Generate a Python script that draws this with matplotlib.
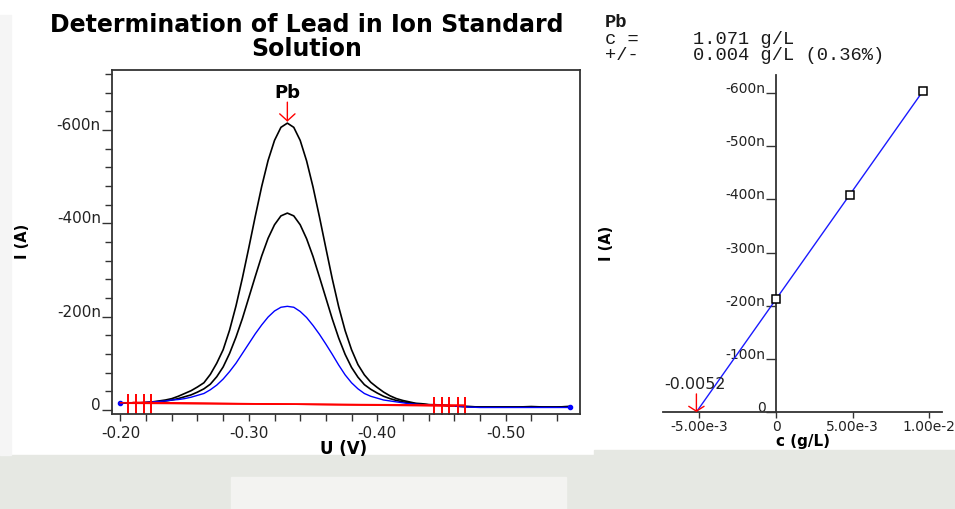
import numpy as np
import matplotlib.pyplot as plt
from matplotlib.ticker import FixedLocator, MultipleLocator, FuncFormatter
from matplotlib.patches import Rectangle

W, H = 955, 509

# voltammograms (U in V, I in nA)
potential = [
    -0.200, -0.205, -0.210, -0.215, -0.220, -0.225, -0.230, -0.235, -0.240, -0.245,
    -0.250, -0.255, -0.260, -0.265, -0.270, -0.275, -0.280, -0.285, -0.290, -0.295,
    -0.300, -0.305, -0.310, -0.315, -0.320, -0.325, -0.330, -0.335, -0.340, -0.345,
    -0.350, -0.355, -0.360, -0.365, -0.370, -0.375, -0.380, -0.385, -0.390, -0.395,
    -0.400, -0.405, -0.410, -0.415, -0.420, -0.425, -0.430, -0.435, -0.440, -0.445,
    -0.450, -0.460, -0.470, -0.480, -0.490, -0.500, -0.510, -0.520, -0.530, -0.540, -0.550,
]
i_add2 = [
    -15, -15, -15, -15, -16, -17, -19, -21, -24, -29,
    -35, -41, -49, -58, -76, -100, -129, -171, -223, -283,
    -348, -415, -479, -535, -578, -606, -615, -606, -578, -534,
    -478, -414, -347, -281, -221, -170, -129, -97, -75, -59,
    -48, -38, -30, -24, -20, -17, -14, -13, -11, -11,
    -10, -8, -7, -6, -6, -6, -6, -7, -6, -6, -7,
]
i_add1 = [
    -15, -15, -15, -15, -15, -16, -17, -19, -21, -24,
    -28, -32, -38, -45, -55, -71, -92, -121, -156, -196,
    -241, -286, -330, -368, -397, -416, -422, -416, -397, -367,
    -329, -285, -240, -195, -154, -119, -91, -70, -54, -44,
    -36, -29, -24, -20, -17, -15, -13, -12, -11, -10,
    -10, -8, -7, -6, -6, -6, -6, -6, -6, -6, -7,
]
i_sample = [
    -15, -15, -15, -15, -16, -17, -18, -19, -21, -22,
    -24, -27, -31, -35, -43, -53, -66, -82, -100, -121,
    -142, -163, -182, -199, -212, -220, -222, -220, -211, -198,
    -181, -162, -141, -119, -96, -75, -58, -45, -35, -29,
    -25, -21, -19, -17, -15, -13, -12, -11, -11, -10,
    -10, -8, -6, -5, -5, -5, -5, -5, -5, -5, -5,
]

# baselines and their limit marks
base_u = [[-0.200, -0.4685], [-0.205, -0.4685], [-0.210, -0.460]]
base_i = [[-15, -9], [-14, -10], [-16, -8]]
marks_left_u = [-0.206, -0.212, -0.218, -0.2235]
marks_left_i = [-13.5, -13.5, -13.5, -13.5]
marks_right_u = [-0.4446, -0.4503, -0.456, -0.4628, -0.4685]
marks_right_i = [-7, -7, -7, -7, -7]
peak_u = -0.330
peak_i = -618

# standard addition calibration
cal_c = [0.0, 4.8e-3, 9.6e-3]
cal_i = [-212, -409, -604]
cal_ticks = [-5e-3, 0, 5e-3, 1e-2]
cal_tick_labels = ["-5.00e-3", "0", "5.00e-3", "1.00e-2"]


def px(x, y):
    return x / W, 1 - y / H


def nano(v, pos):
    if abs(v) < 1e-9:
        return "0"
    return f"{v:.0f}n"


fig = plt.figure(figsize=(W / 100, H / 100), dpi=100)

# background of the scanned page
fig.patches.append(Rectangle((0, 0), 594 / W, 54 / H, transform=fig.transFigure,
                             color="#e6e8e3", zorder=-2))
fig.patches.append(Rectangle((594 / W, 0), 361 / W, 59 / H, transform=fig.transFigure,
                             color="#e6e8e3", zorder=-2))
fig.patches.append(Rectangle((231 / W, 0), 335 / W, 32 / H, transform=fig.transFigure,
                             color="#f3f3f1", zorder=-2))
fig.patches.append(Rectangle((0, 54 / H), 11 / W, 440 / H, transform=fig.transFigure,
                             color="#f5f5f5", zorder=-2))

# ---- voltammogram ----
ax = fig.add_axes([111.5 / W, 1 - 414 / H, 468.5 / W, 344 / H])
ax.set_facecolor("none")
ax.plot(potential, i_add2, color="black", lw=1.2)
ax.plot(potential, i_add1, color="black", lw=1.2)
ax.plot(potential, i_sample, color="#0000ff", lw=1.0)
ax.plot([potential[0], potential[-1]], [i_sample[0], i_sample[-1]], "o",
        color="#0000ff", ms=3)
for bu, bi in zip(base_u, base_i):
    ax.plot(bu, bi, color="red", lw=1.1)
ax.plot(marks_left_u, marks_left_i, "|", color="red", ms=14, mew=1.4)
ax.plot(marks_right_u, marks_right_i, "|", color="red", ms=15, mew=1.4)

ax.annotate("", xy=(peak_u, peak_i), xytext=(peak_u, -660),
            arrowprops=dict(arrowstyle="->,head_length=0.5,head_width=0.55",
                            color="red", lw=1, shrinkA=0, shrinkB=0))
ax.text(peak_u, -680, "Pb", ha="center", va="center", fontsize=13,
        fontweight="bold")

ax.set_xlim(-0.193, -0.558)
ax.set_ylim(9, -729)
ax.xaxis.set_major_locator(FixedLocator([-0.2, -0.3, -0.4, -0.5]))
ax.xaxis.set_minor_locator(MultipleLocator(0.02))
ax.xaxis.set_major_formatter(FuncFormatter(lambda v, p: f"{v:.2f}"))
ax.yaxis.set_major_locator(MultipleLocator(200))
ax.yaxis.set_minor_locator(MultipleLocator(40))
ax.yaxis.set_major_formatter(FuncFormatter(nano))
ax.tick_params(axis="x", which="both", direction="out", length=5, width=1,
               color="#333333", labelsize=11, pad=3.5, labelcolor="#222222")
ax.tick_params(axis="y", which="major", direction="out", length=7.2, width=1,
               color="#333333", labelsize=11, pad=0.5, labelcolor="#222222")
ax.tick_params(axis="y", which="minor", direction="out", length=5, width=1,
               color="#333333")
for sp in ax.spines.values():
    sp.set_color("#333333")
    sp.set_linewidth(1.3)
plt.setp(ax.get_yticklabels(), va="baseline")

# ---- calibration ----
ax2 = fig.add_axes([663 / W, 1 - 412 / H, 278.7 / W, 337 / H])
ax2.set_facecolor("none")
fit = np.polyfit(cal_c, cal_i, 1)
x0 = -fit[1] / fit[0]
line_c = np.array([x0, cal_c[-1]])
ax2.plot(line_c, np.polyval(fit, line_c), color="#1a1aff", lw=1)
ax2.plot(cal_c, cal_i, "s", mfc="white", mec="black", ms=5.5, mew=1.1, zorder=3)
ax2.annotate("", xy=(x0, 0), xytext=(x0, -34),
             arrowprops=dict(arrowstyle="->,head_length=0.35,head_width=0.55",
                             color="red", lw=1, shrinkA=0, shrinkB=0),
             annotation_clip=False)
ax2.text(x0 - 0.1e-3, -52, f"{x0:.4f}", ha="center", va="center", fontsize=11.5,
         color="#222222")

ax2.set_xlim(-7.38e-3, 10.81e-3)
ax2.set_ylim(0, -634)
ax2.spines["top"].set_visible(False)
ax2.spines["right"].set_visible(False)
ax2.spines["left"].set_position(("data", 0))
for sp in ax2.spines.values():
    sp.set_color("#333333")
    sp.set_linewidth(1.3)
ax2.set_xticks(cal_ticks)
ax2.set_xticklabels(cal_tick_labels)
ax2.set_yticks([0, -100, -200, -300, -400, -500, -600])
ax2.yaxis.set_major_formatter(FuncFormatter(nano))
ax2.tick_params(axis="x", direction="out", length=4.3, width=1, color="#333333",
                labelsize=10, pad=1.5, labelcolor="#222222")
ax2.tick_params(axis="y", direction="out", length=7.2, width=1, color="#333333",
                labelsize=10, pad=0.5, labelcolor="#222222")
plt.setp(ax2.get_yticklabels(), va="baseline")

# ---- texts ----
fig.text(*px(307, 37), "Determination of Lead in Ion Standard\nSolution",
         ha="center", va="center", fontsize=17, fontweight="bold",
         linespacing=0.95)
fig.text(*px(22, 241), "I (A)", rotation=90, ha="center", va="center",
         fontsize=10.5, fontweight="bold")
fig.text(*px(606.5, 243), "I (A)", rotation=90, ha="center", va="center",
         fontsize=10.5, fontweight="bold")
fig.text(*px(344, 449), "U (V)", ha="center", va="center", fontsize=12,
         fontweight="bold")
fig.text(*px(803, 441.5), "c (g/L)", ha="center", va="center", fontsize=11,
         fontweight="bold")

mono = dict(family="Liberation Mono", fontsize=13.5, va="center", color="#1a1a1a")
fig.text(*px(605, 22.7), "Pb", fontweight="bold", **mono)
fig.text(*px(605, 40), "c =", **mono)
fig.text(*px(693, 40), "1.071 g/L", **mono)
fig.text(*px(605, 56), "+/-", **mono)
fig.text(*px(693, 56), "0.004 g/L (0.36%)", **mono)

fig.savefig("out.png", dpi=100)
